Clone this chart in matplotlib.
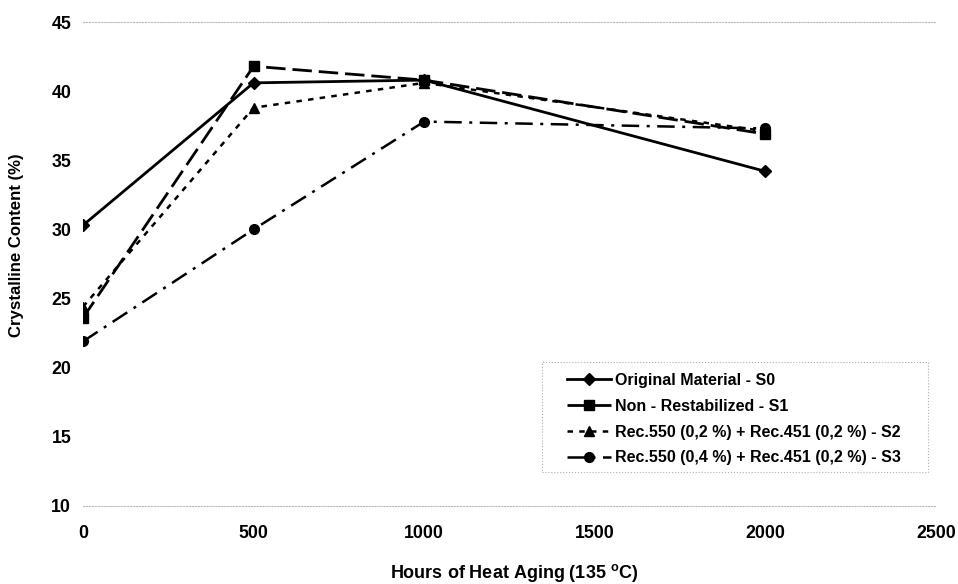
import matplotlib
matplotlib.use("Agg")
from matplotlib import pyplot as plt
from matplotlib.patches import Rectangle

plt.rcParams['font.family'] = ['Liberation Sans', 'DejaVu Sans']
plt.rcParams['font.weight'] = 'bold'

# heat aging hours and crystalline content for each sample
hours = [0, 500, 1000, 2000]
s0 = [30.3, 40.6, 40.8, 34.2]
s1 = [23.6, 41.8, 40.8, 36.9]
s2 = [24.4, 38.8, 40.6, 37.1]
s3 = [21.9, 30.0, 37.8, 37.3]

labels = ["Original Material - S0",
          "Non - Restabilized - S1",
          "Rec.550 (0,2 %) + Rec.451 (0,2 %) - S2",
          "Rec.550 (0,4 %) + Rec.451 (0,2 %) - S3"]

fig = plt.figure(figsize=(9.58, 5.84), dpi=100)
ax = fig.add_axes([0.0866, 0.1336, 0.8904, 0.8287])

ax.plot(hours, s0, color='black', lw=2.0, ls='-', marker='D', ms=6, label=labels[0])
ax.plot(hours, s1, color='black', lw=2.0, ls=(0, (7, 2.5)), marker='s', ms=7, label=labels[1])
ax.plot(hours, s2, color='black', lw=1.8, ls=(0, (2.2, 2.5)), marker='^', ms=7, label=labels[2])
ax.plot(hours, s3, color='black', lw=1.8, ls=(0, (7, 3, 1.2, 3)), marker='o', ms=7, label=labels[3])

ax.set_xlim(0, 2500)
ax.set_ylim(10, 45)
ax.set_xticks([0, 500, 1000, 1500, 2000, 2500])
ax.set_yticks([10, 15, 20, 25, 30, 35, 40, 45])
ax.tick_params(axis='both', length=0, labelsize=12.8)
ax.tick_params(axis='x', pad=14)
ax.tick_params(axis='y', pad=8.5)

for side in ['left', 'right']:
    ax.spines[side].set_visible(False)
for side in ['top', 'bottom']:
    ax.spines[side].set_color('#b8b8b8')
    ax.spines[side].set_linestyle(':')
    ax.spines[side].set_linewidth(0.8)

ax.set_xlabel("Hours of Heat Aging (135 $^{\\mathregular{o}}$C)", fontsize=13, fontweight='bold')
ax.xaxis.set_label_coords(0.505, -0.116)
ax.set_ylabel("Crystalline Content (%)", fontsize=12.1, fontweight='bold')
ax.yaxis.set_label_coords(-0.069, 0.539)

# legend box drawn separately so the left margin can be wider than the top one
ax.add_patch(Rectangle((0.538, 0.070), 0.4526, 0.227, transform=ax.transAxes,
                       facecolor='white', edgecolor='#b0b0b0', ls=':', lw=0.8, zorder=4))
leg = ax.legend(loc='upper left', bbox_to_anchor=(0.567, 0.275), borderaxespad=0,
                fontsize=11.5, handlelength=2.8, handletextpad=0.25,
                labelspacing=0.68, borderpad=0, frameon=False)
leg.set_zorder(5)
for t in leg.get_texts():
    t.set_fontweight('bold')

fig.savefig("out.png", dpi=100)
